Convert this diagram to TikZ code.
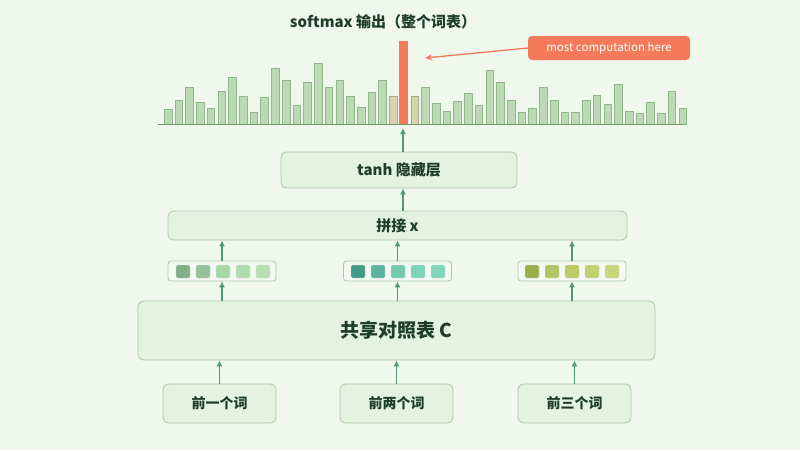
\documentclass[tikz,border=0pt]{standalone}
\usepackage{fontspec}
\setmainfont{Noto Sans CJK SC}
\usetikzlibrary{arrows.meta}
\definecolor{bg}{HTML}{F0F8EE}
\definecolor{boxf}{HTML}{E4F2E0}
\definecolor{boxd}{HTML}{A8C9A2}
\definecolor{txt}{HTML}{1F3D2A}
\definecolor{arr}{HTML}{4F9A6E}
\definecolor{barf}{HTML}{BCD9B6}
\definecolor{bard}{HTML}{8FB98A}
\definecolor{tanf}{HTML}{D8D2B0}
\definecolor{hot}{HTML}{F47A5A}
\tikzset{
 box/.style={draw=boxd,fill=boxf,rounded corners=6pt,line width=0.8pt,text=txt,inner sep=0pt},
 up/.style={draw=arr,line width=1.2pt,-{Latex[length=6pt,width=6pt]}},
 sq/.style={rounded corners=1.5pt,draw=black!15,line width=0.3pt},
}
\begin{document}
\begin{tikzpicture}[x=1pt,y=-1pt]
\fill[bg] (0,0) rectangle (800,450);
\useasboundingbox (0,0) rectangle (800,450);
\node[font=\bfseries\fontsize{15}{17}\selectfont,text=txt] (title) at (383,22) {softmax 输出（整个词表）};
% bars
\foreach [count=\i from 0] \h in {15,24,37,22,16,33,47,28,12,27,56,44,19,42,61,37,44,28,17,32,44,28,83,28,37,21,13,23,31,19,54,42,24,12,16,37,24,12,12,24,29,20,40,13,11,22,11,33,16}{
  \pgfmathsetmacro\xc{168+10.72*\i}
  \ifnum\i=22
   \fill[hot] (\xc-4.5,124) rectangle (\xc+4.5,124-\h);
  \else\ifnum\i=21
   \filldraw[fill=tanf,draw=tanf!80!black,line width=0.4pt] (\xc-3.8,124) rectangle (\xc+3.8,124-\h);
  \else\ifnum\i=23
   \filldraw[fill=tanf,draw=tanf!80!black,line width=0.4pt] (\xc-3.8,124) rectangle (\xc+3.8,124-\h);
  \else
   \filldraw[fill=barf,draw=bard,line width=0.4pt] (\xc-3.8,124) rectangle (\xc+3.8,124-\h);
  \fi\fi\fi
}
\draw[bard!80!black,line width=1pt] (158,124.5) -- (683,124.5);
\coordinate (barbase) at (403,128);
\coordinate (redbar) at (425,58);
\node[fill=hot,rounded corners=4pt,text=white,font=\fontsize{11.5}{13}\selectfont,minimum width=162pt,minimum height=24pt,inner sep=0pt] (call) at (609,48) {most computation here};
\draw[hot,line width=1.3pt,-{Stealth[length=7pt,width=6pt]}] (call.west) -- (redbar);
% boxes
\node[box,minimum width=236pt,minimum height=36pt,font=\bfseries\fontsize{15}{17}\selectfont] (tanh) at (399,170) {tanh 隐藏层};
\node[box,minimum width=459pt,minimum height=29pt,font=\bfseries\fontsize{15}{17}\selectfont] (cat) at (397.5,225.5) {拼接 x};
\node[box,minimum width=517pt,minimum height=59pt,font=\bfseries\fontsize{19}{21}\selectfont] (shared) at (396.5,330.5) {共享对照表 C};
\node[box,minimum width=113pt,minimum height=39pt,font=\bfseries\fontsize{14}{16}\selectfont] (w1) at (219.5,403.5) {前一个词};
\node[box,minimum width=113pt,minimum height=39pt,font=\bfseries\fontsize{14}{16}\selectfont] (w2) at (396.5,403.5) {前两个词};
\node[box,minimum width=113pt,minimum height=39pt,font=\bfseries\fontsize{14}{16}\selectfont] (w3) at (574.5,403.5) {前三个词};
\node[box,fill=white!60!boxf,rounded corners=3pt,minimum width=108pt,minimum height=20pt] (e1) at (222,271) {};
\node[box,fill=white!60!boxf,rounded corners=3pt,minimum width=108pt,minimum height=20pt] (e2) at (397.5,271) {};
\node[box,fill=white!60!boxf,rounded corners=3pt,minimum width=108pt,minimum height=20pt] (e3) at (572,271) {};
\foreach \c [count=\i from 0] in {7FAE88,95C29B,A8D6A8,B0DCAE,B5E0B0}{
  \definecolor{cc}{HTML}{\c}\fill[cc,sq] (176+\i*20,265) rectangle ++(14,13);}
\foreach \c [count=\i from 0] in {3F9A88,5CB39E,74C9B0,7DD3B8,82D6BD}{
  \definecolor{cc}{HTML}{\c}\fill[cc,sq] (351+\i*20,265) rectangle ++(14,13);}
\foreach \c [count=\i from 0] in {9CAE48,B3C462,BCCB66,C3D270,C8D878}{
  \definecolor{cc}{HTML}{\c}\fill[cc,sq] (525+\i*20,265) rectangle ++(14,13);}
% arrows
\draw[up] (tanh.north -| barbase) -- (barbase);
\draw[up] (cat.north -| tanh.south) ++(4,0) -- ([xshift=4pt]tanh.south);
\draw[up] (e1.north) -- (e1.north |- cat.south);
\draw[up] (e2.north) -- (e2.north |- cat.south);
\draw[up] (e3.north) -- (e3.north |- cat.south);
\draw[up] (shared.north -| e1.south) -- (e1.south);
\draw[up] (shared.north -| e2.south) -- (e2.south);
\draw[up] (shared.north -| e3.south) -- (e3.south);
\draw[up] (w1.north) -- (w1.north |- shared.south);
\draw[up] (w2.north) -- (w2.north |- shared.south);
\draw[up] (w3.north) -- (w3.north |- shared.south);
\end{tikzpicture}
\end{document}
